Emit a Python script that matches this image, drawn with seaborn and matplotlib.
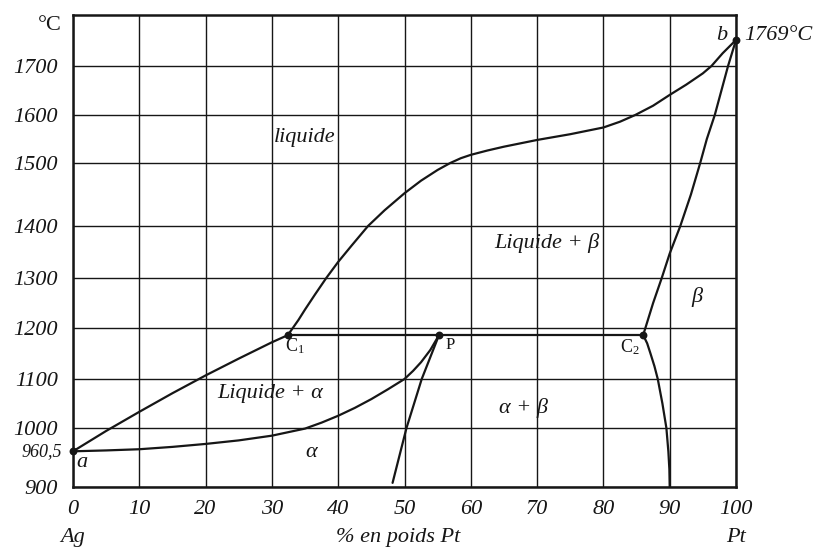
import numpy as np
import pandas as pd
import matplotlib
matplotlib.use("Agg")
import matplotlib.pyplot as plt
import seaborn as sns

# ---- data: Ag-Pt phase diagram (wt % Pt, temperature in degC) ----
x_ticks = [0, 10, 20, 30, 40, 50, 60, 70, 80, 90, 100]
y_ticks = [900, 1000, 1100, 1200, 1300, 1400, 1500, 1600, 1700]

t_ag = 960.5          # melting point of Ag
t_pt = 1769           # melting point of Pt
t_peritectic = 1186   # C1 - P - C2 isotherm
x_c1, x_p, x_c2 = 32.4, 55.2, 86.0

# liquidus, Ag side (a -> C1)
liq_ag_x = [0, 5, 10, 15, 20, 25, 30, x_c1]
liq_ag_t = [t_ag, 995, 1033, 1071, 1107, 1140, 1172, t_peritectic]

# liquidus, Pt side (C1 -> b)
liq_pt_x = [x_c1, 34, 35, 36.5, 38.2, 40, 42, 44.5, 47, 50, 52.5, 55, 56.9, 58.5, 60,
            62.5, 65, 67.5, 70, 72.5, 75, 77.5, 80, 82.5, 84.8, 87.5, 90, 92.5, 95,
            96.3, 98, 100]
liq_pt_t = [t_peritectic, 1216, 1237, 1267, 1300, 1331, 1362, 1400, 1425, 1452, 1472,
            1489, 1500, 1510, 1517, 1526, 1534, 1541, 1548, 1554, 1560, 1567, 1574,
            1586, 1600, 1619, 1641, 1662, 1685, 1700, 1734, t_pt]

# solidus of alpha (a -> P)
sol_a_x = [0, 5, 10, 15, 20, 25, 30, 32.5, 35, 37.5, 40, 42.5, 45, 47.5, 50, 51.3,
           52.5, 53.9, x_p]
sol_a_t = [t_ag, 962, 964, 968, 973, 979, 987, 993, 999, 1011, 1025, 1041, 1059, 1079,
           1100, 1116, 1133, 1157, t_peritectic]

# solvus of alpha (P -> bottom)
solv_a_x = [x_p, 52.6, 50.3, 48.2]
solv_a_t = [t_peritectic, 1100, 1000, 907]

# solidus of beta (C2 -> b)
sol_b_x = [x_c2, 87.5, 88.8, 90, 91.6, 93.2, 94.6, 95.6, 96.8, 97.8, 98.8, 100]
sol_b_t = [t_peritectic, 1250, 1300, 1347, 1400, 1450, 1500, 1550, 1600, 1650, 1700, t_pt]

# solvus of beta (C2 -> bottom)
solv_b_x = [x_c2, 86.6, 87.1, 87.7, 88.2, 88.9, 89.5, 89.8, 89.95, 90.0]
solv_b_t = [t_peritectic, 1170, 1150, 1125, 1100, 1050, 1000, 960, 930, 900]

# isotherm
iso_x = [x_c1, x_c2]
iso_t = [t_peritectic, t_peritectic]

# invariant points
pts_x = [0, 100, x_c1, x_p, x_c2]
pts_t = [t_ag, t_pt, t_peritectic, t_peritectic, t_peritectic]

curves = {
    "liq_ag": (liq_ag_x, liq_ag_t),
    "liq_pt": (liq_pt_x, liq_pt_t),
    "sol_a": (sol_a_x, sol_a_t),
    "solv_a": (solv_a_x, solv_a_t),
    "sol_b": (sol_b_x, sol_b_t),
    "solv_b": (solv_b_x, solv_b_t),
    "iso": (iso_x, iso_t),
}
frames = [pd.DataFrame({"x": xs, "t": ts, "curve": name})
          for name, (xs, ts) in curves.items()]
df = pd.concat(frames, ignore_index=True)

# ---- style ----
sns.set_theme(style="white")
plt.rcParams["font.family"] = ["Liberation Serif", "DejaVu Serif"]
plt.rcParams["mathtext.fontset"] = "custom"
plt.rcParams["mathtext.rm"] = "Liberation Serif"
plt.rcParams["mathtext.it"] = "Liberation Serif:italic"
INK = "#161616"

# The temperature axis follows the hand-drawn grid rows (unequal spacing).
T_KNOTS = np.array([900, 1000, 1100, 1200, 1300, 1400, 1500, 1600, 1700, 1835], float)
H_KNOTS = np.array([0, 59, 108, 159, 209, 261, 324, 372, 421, 472], float)


def _fwd(t):
    t = np.asarray(t, float)
    out = np.interp(t, T_KNOTS, H_KNOTS)
    s0 = (H_KNOTS[1] - H_KNOTS[0]) / (T_KNOTS[1] - T_KNOTS[0])
    s1 = (H_KNOTS[-1] - H_KNOTS[-2]) / (T_KNOTS[-1] - T_KNOTS[-2])
    out = np.where(t < T_KNOTS[0], H_KNOTS[0] + (t - T_KNOTS[0]) * s0, out)
    out = np.where(t > T_KNOTS[-1], H_KNOTS[-1] + (t - T_KNOTS[-1]) * s1, out)
    return out


def _inv(h):
    h = np.asarray(h, float)
    out = np.interp(h, H_KNOTS, T_KNOTS)
    s0 = (T_KNOTS[1] - T_KNOTS[0]) / (H_KNOTS[1] - H_KNOTS[0])
    s1 = (T_KNOTS[-1] - T_KNOTS[-2]) / (H_KNOTS[-1] - H_KNOTS[-2])
    out = np.where(h < H_KNOTS[0], T_KNOTS[0] + (h - H_KNOTS[0]) * s0, out)
    out = np.where(h > H_KNOTS[-1], T_KNOTS[-1] + (h - H_KNOTS[-1]) * s1, out)
    return out


fig = plt.figure(figsize=(8.18, 5.5), dpi=100)
ax = fig.add_axes([73 / 818, 1 - 487 / 550, 663 / 818, 472 / 550])
ax.set_yscale("function", functions=(_fwd, _inv))
ax.set_xlim(0, 100)
ax.set_ylim(900, 1835)

# grid
ax.set_xticks(x_ticks)
ax.set_yticks(y_ticks)
ax.grid(True, color=INK, lw=1.0)
ax.set_axisbelow(True)

# phase boundaries
for name, sub in df.groupby("curve", sort=False):
    sns.lineplot(data=sub, x="x", y="t", sort=False, estimator=None, color=INK,
                 lw=1.6, ax=ax, legend=False)

sns.scatterplot(x=pts_x, y=pts_t, color=INK, s=32, edgecolor=INK, linewidth=0,
                zorder=5, clip_on=False, ax=ax)

# frame
for sp in ax.spines.values():
    sp.set_visible(True)
    sp.set_color(INK)
    sp.set_linewidth(1.8)

# tick labels
ax.tick_params(length=0, labelcolor=INK)
ax.set_xticklabels([str(v) for v in x_ticks], fontsize=16, style="italic")
ax.set_yticklabels([str(v) for v in y_ticks], fontsize=16, style="italic")
ax.tick_params(axis="x", pad=9)
ax.tick_params(axis="y", pad=11)
ax.set_xlabel("")
ax.set_ylabel("")
ax.text(-11 / 663, t_ag, "960,5", transform=ax.get_yaxis_transform(), ha="right",
        va="center", fontsize=13, style="italic", color=INK)

# axis captions
ax.text(-11 / 663, 0.977, "°C", transform=ax.transAxes, ha="right", va="center",
        fontsize=16, color=INK)
ax.text(0.0, -0.106, "Ag", transform=ax.transAxes, ha="center", va="center",
        fontsize=16, style="italic", color=INK)
ax.text(1.0, -0.106, "Pt", transform=ax.transAxes, ha="center", va="center",
        fontsize=16, style="italic", color=INK)
ax.text(0.49, -0.106, "% en poids Pt", transform=ax.transAxes, ha="center",
        va="center", fontsize=16, style="italic", color=INK)

# region and point labels
it = dict(style="italic", color=INK, ha="center", va="center")
ax.text(35.0, 1554, "liquide", fontsize=16, **it)
ax.text(71.5, 1367, "Liquide + β", fontsize=16, **it)
ax.text(94.1, 1262, "β", fontsize=16, **it)
ax.text(29.7, 1071, "Liquide + α", fontsize=16, **it)
ax.text(68.0, 1041, "α + β", fontsize=16, **it)
ax.text(35.9, 959, "α", fontsize=16, **it)
ax.text(1.4, 941, "a", fontsize=16, **it)
ax.text(97.9, 1782, "b", fontsize=16, **it)
ax.text(101.2, 1782, "1769°C", fontsize=16, style="italic", color=INK,
        ha="left", va="center", clip_on=False)
ax.text(33.4, 1165, "C$_1$", fontsize=13, color=INK, ha="center", va="center")
ax.text(56.9, 1167, "P", fontsize=12, color=INK, ha="center", va="center")
ax.text(84.0, 1163, "C$_2$", fontsize=13, color=INK, ha="center", va="center")

fig.savefig("out.png", dpi=100)
